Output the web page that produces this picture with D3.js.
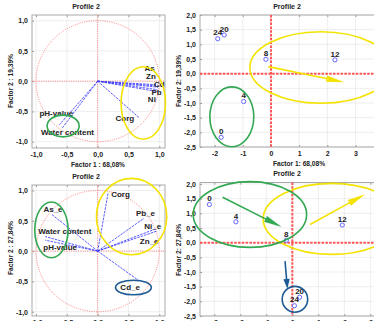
<!DOCTYPE html>
<html>
<head>
<meta charset="utf-8">
<script src="https://cdn.jsdelivr.net/npm/d3@7"></script>
<style>
  html, body { margin: 0; padding: 0; background: #fff; }
  svg { display: block; font-family: "Liberation Sans", Arial, sans-serif; font-weight: bold; }
</style>
</head>
<body>
<svg id="chart" width="374" height="321"></svg>
<script>
// ---- data ----
// profile 2, first PCA: loadings
const vars1 = ["As", "Zn", "Cd", "Pb", "Ni", "Corg", "pH-value", "Water content"];
const load1X = [0.97, 0.98, 0.98, 0.97, 0.96, 0.68, -0.62, -0.58];
const load1Y = [-0.06, -0.08, -0.10, -0.14, -0.17, -0.61, -0.72, -0.78];

// sample depths and their scores
const samples = ["24", "20", "8", "12", "4", "0"];
const score1X = [-1.89, -1.66, -0.18, 2.27, -0.97, -1.77];
const score1Y = [1.19, 1.32, 0.49, 0.47, -0.95, -2.17];

// second PCA (extractable fractions)
const vars2 = ["Corg", "Pb_e", "Ni_e", "Zn_e", "Cd_e", "As_e", "Water content", "pH-value"];
const load2X = [0.17, 0.75, 0.95, 0.96, 0.66, -0.75, -0.85, -0.85];
const load2Y = [0.96, 0.54, 0.37, 0.33, -0.48, 0.61, 0.24, 0.18];

const score2X = [0.08, 0.28, -0.23, 1.92, -2.17, -3.19];
const score2Y = [-2.15, -1.86, 0.08, 0.60, 0.71, 1.30];

// axis texts
const title = "Profile 2";
const f1Label = ["Factor 1 : 68,08%", "Factor 1: 68,08%"];
const f2Label1 = ["Factor 2 : 19,39%", "Factor 2: 19,39%"];
const f2Label2 = ["Factor 2 : 27,84%", "Factor 2: 27,84%"];

const loadTicks = [-1, -0.5, 0, 0.5, 1];
const scoreYTicks = [-2.5, -2, -1.5, -1, -0.5, 0, 0.5, 1, 1.5, 2];
const score1XTicks = [-2, -1, 0, 1, 2, 3];
const score2XTicks = [-3, -2, -1, 0, 1, 2, 3];

// hand-drawn marks (data units): [cx, cy, rx, ry]
const ellA = { yellow: [0.74, -0.36, 0.36, 0.60], green: [-0.56, -0.74, 0.26, 0.18] };
const ellB = { yellow: [1.77, 0.21, 2.52, 1.22], green: [-1.39, -1.47, 0.78, 1.02] };
const ellC = { yellow: [0.55, 0.57, 0.57, 0.63], green: [-0.75, 0.35, 0.27, 0.46], navy: [0.58, -0.60, 0.29, 0.12] };
const ellD = { yellow: [1.51, 0.81, 2.63, 1.21], green: [-1.63, 0.96, 2.18, 1.12], navy: [0.10, -1.93, 0.49, 0.44] };
// arrows: [x1, y1, x2, y2]
const arrB = { yellow: [-0.10, 0.24, 2.60, -0.29] };
const arrD = { green: [-2.68, 1.55, -0.41, 0.53], yellow: [0.68, 0.62, 2.80, 1.65], navy: [-0.28, -0.63, -0.19, -1.57] };

// label nudges in px (left, baseline) from vector tips
const nudge1 = [[-13, -14], [-12, -7], [-4, 0], [-6, 5], [-9, 11], [-24, 3], [-20, -9], [-21, 7]];
const nudge2 = [[3, 4], [-8, -2], [-12, 0], [-17, 13], [-18, 10], [-8, -2], [-7, -3], [-2, 10]];

// ---- drawing ----
const svg = d3.select("#chart");
const colors = { yellow: "#f4e300", green: "#33a852", navy: "#1e5a94" };
const loc = d3.formatLocale({ decimal: ",", thousands: ".", grouping: [3], currency: ["", ""], minus: "-" });
const f1 = loc.format(".1f"), f0 = loc.format("d");

function frame(p) {
  const x = d3.scaleLinear().domain(p.xDom).range([p.left, p.right]);
  const y = d3.scaleLinear().domain(p.yDom).range([p.bottom, p.top]);
  const g = svg.append("g");

  // light grid
  g.append("g").selectAll("line").data(p.xTicks).join("line")
    .attr("x1", d => x(d)).attr("x2", d => x(d)).attr("y1", p.top).attr("y2", p.bottom)
    .attr("stroke", "#e6e6e6").attr("stroke-width", 0.7);
  g.append("g").selectAll("line").data(p.yTicks).join("line")
    .attr("x1", p.left).attr("x2", p.right).attr("y1", d => y(d)).attr("y2", d => y(d))
    .attr("stroke", "#e6e6e6").attr("stroke-width", 0.7);

  const ax = (axis, tx, ty) => {
    const a = g.append("g").attr("transform", `translate(${tx},${ty})`).call(axis);
    a.select(".domain").remove();
    a.selectAll("line").attr("stroke", "#999");
    a.selectAll("text").attr("font-size", 7).attr("font-weight", "bold").attr("fill", "#222")
      .attr("font-family", "Liberation Sans, Arial, sans-serif");
    return a;
  };
  ax(d3.axisBottom(x).tickValues(p.xTicks).tickFormat(p.xFmt).tickSizeInner(-2).tickSizeOuter(0).tickPadding(4), 0, p.bottom);
  ax(d3.axisLeft(y).tickValues(p.yTicks).tickFormat(p.yFmt).tickSizeInner(-2).tickSizeOuter(0).tickPadding(4), p.left, 0);
  ax(d3.axisTop(x).tickValues(p.xTicks).tickFormat("").tickSizeInner(-2).tickSizeOuter(0), 0, p.top);

  g.append("rect").attr("x", p.left).attr("y", p.top)
    .attr("width", p.right - p.left).attr("height", p.bottom - p.top)
    .attr("fill", "none").attr("stroke", "#aaa").attr("stroke-width", 1);

  // zero lines
  const zs = p.loadings
    ? { stroke: "#ff8080", w: 1, dash: "1,1.3" }
    : { stroke: "#ff5555", w: 2, dash: "2.5,1.3" };
  g.append("line").attr("x1", x(0)).attr("x2", x(0)).attr("y1", p.top).attr("y2", p.bottom)
    .attr("stroke", zs.stroke).attr("stroke-width", zs.w).attr("stroke-dasharray", zs.dash);
  g.append("line").attr("x1", p.left).attr("x2", p.right).attr("y1", y(0)).attr("y2", y(0))
    .attr("stroke", zs.stroke).attr("stroke-width", zs.w).attr("stroke-dasharray", zs.dash);
  if (p.loadings) {
    g.append("ellipse").attr("cx", x(0)).attr("cy", y(0))
      .attr("rx", x(1) - x(0)).attr("ry", y(0) - y(1))
      .attr("fill", "none").attr("stroke", "#ff8080").attr("stroke-width", 1).attr("stroke-dasharray", "1,1.3");
  }

  // texts around
  svg.append("text").attr("x", p.titleX).attr("y", p.top - 6.5).attr("text-anchor", "middle")
    .attr("font-size", 7).attr("fill", "#222").text(title);
  if (p.xLabel) {
    svg.append("text").attr("x", p.xLabelX).attr("y", p.bottom + 19).attr("text-anchor", "middle")
      .attr("font-size", 6.6).attr("fill", "#222").text(p.xLabel);
  }
  svg.append("text").attr("transform", `translate(${p.left - 19},${p.yLabelY}) rotate(-90)`)
    .attr("text-anchor", "middle").attr("font-size", 6.6).attr("fill", "#222").text(p.yLabel);

  return { g, x, y };
}

function biplot(p, vx, vy, names, nudge) {
  const { g, x, y } = frame(p);
  const idx = d3.range(names.length);
  g.append("g").selectAll("line").data(idx).join("line")
    .attr("x1", x(0)).attr("y1", y(0))
    .attr("x2", i => x(vx[i])).attr("y2", i => y(vy[i]))
    .attr("stroke", "#3c3cff").attr("stroke-width", 1).attr("stroke-opacity", 0.85)
    .attr("stroke-dasharray", "2.5,1");
  g.append("g").selectAll("text").data(idx).join("text")
    .attr("x", i => x(vx[i]) + nudge[i][0]).attr("y", i => y(vy[i]) + nudge[i][1])
    .attr("font-size", 8).attr("fill", "#222").text(i => names[i]);
  return { g, x, y };
}

function scores(p, sx, sy) {
  const { g, x, y } = frame(p);
  const idx = d3.range(samples.length);
  g.append("g").selectAll("circle").data(idx).join("circle")
    .attr("cx", i => x(sx[i])).attr("cy", i => y(sy[i])).attr("r", 2.1)
    .attr("fill", "#fff").attr("stroke", "#6464ff").attr("stroke-width", 1);
  g.append("g").selectAll("text").data(idx).join("text")
    .attr("x", i => x(sx[i])).attr("y", i => y(sy[i]) - 3.3).attr("text-anchor", "middle")
    .attr("font-size", 8).attr("fill", "#222").text(i => samples[i]);
  return { g, x, y };
}

function ellipses(s, ell) {
  Object.entries(ell).forEach(([c, e]) => {
    s.g.append("ellipse")
      .attr("cx", s.x(e[0])).attr("cy", s.y(e[1]))
      .attr("rx", s.x(e[0] + e[2]) - s.x(e[0])).attr("ry", s.y(e[1]) - s.y(e[1] + e[3]))
      .attr("fill", "none").attr("stroke", colors[c]).attr("stroke-width", 1.6);
  });
}

function arrows(s, arr) {
  Object.entries(arr).forEach(([c, a]) => {
    const x1 = s.x(a[0]), y1 = s.y(a[1]), x2 = s.x(a[2]), y2 = s.y(a[3]);
    const len = Math.hypot(x2 - x1, y2 - y1);
    const ux = (x2 - x1) / len, uy = (y2 - y1) / len;
    const L = Math.min(18, len * 0.35), w = 3.2;
    const bx = x2 - ux * L, by = y2 - uy * L;
    s.g.append("line").attr("x1", x1).attr("y1", y1).attr("x2", bx + ux).attr("y2", by + uy)
      .attr("stroke", colors[c]).attr("stroke-width", 1.6);
    s.g.append("polygon")
      .attr("points", [[x2, y2], [bx - uy * w, by + ux * w], [bx + uy * w, by - ux * w]].map(q => q.join(",")).join(" "))
      .attr("fill", colors[c]);
  });
}

const pA = { left: 32, right: 165, top: 15, bottom: 148, xDom: [-1.065, 1.092], yDom: [-1.104, 1.094],
  xTicks: loadTicks, yTicks: loadTicks, xFmt: f1, yFmt: f1, loadings: true,
  titleX: 86, xLabel: f1Label[0], xLabelX: 98, yLabel: f2Label1[0], yLabelY: 81 };
const pB = { left: 200, right: 400, top: 15, bottom: 147, xDom: [-2.52, 4.58], yDom: [-2.5, 2.0],
  xTicks: score1XTicks, yTicks: scoreYTicks, xFmt: f0, yFmt: f1, loadings: false,
  titleX: 287, xLabel: f1Label[1], xLabelX: 299, yLabel: f2Label1[1], yLabelY: 81 };
const pC = { left: 32, right: 165, top: 185, bottom: 316, xDom: [-1.065, 1.092], yDom: [-1.07, 1.09],
  xTicks: loadTicks, yTicks: loadTicks, xFmt: f1, yFmt: f1, loadings: true,
  titleX: 86, xLabel: null, yLabel: f2Label2[0], yLabelY: 248 };
const pD = { left: 200, right: 400, top: 182.5, bottom: 316, xDom: [-3.55, 4.14], yDom: [-2.5, 2.05],
  xTicks: score2XTicks, yTicks: scoreYTicks, xFmt: f0, yFmt: f1, loadings: false,
  titleX: 287, xLabel: null, yLabel: f2Label2[1], yLabelY: 250 };

const sA = biplot(pA, load1X, load1Y, vars1, nudge1);
ellipses(sA, ellA);
const sB = scores(pB, score1X, score1Y);
ellipses(sB, ellB);
arrows(sB, arrB);
const sC = biplot(pC, load2X, load2Y, vars2, nudge2);
ellipses(sC, ellC);
const sD = scores(pD, score2X, score2Y);
ellipses(sD, ellD);
arrows(sD, arrD);
</script>
</body>
</html>
